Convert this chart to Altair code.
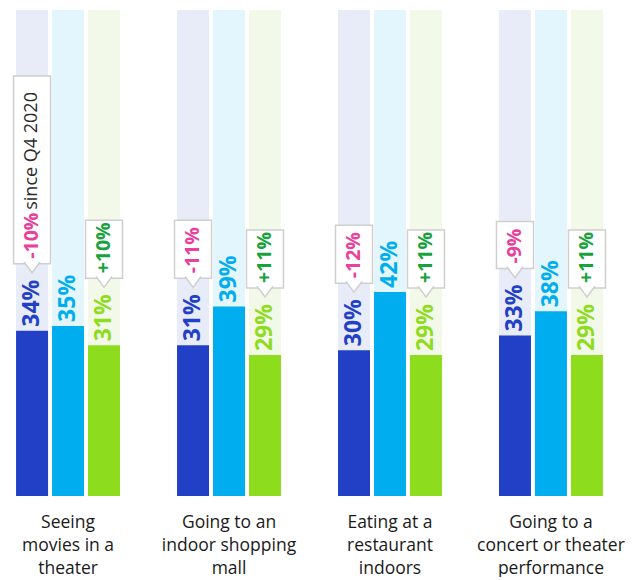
import altair as alt
import pandas as pd

# ---- data ----
categories = [
    "Seeing|movies in a|theater",
    "Going to an|indoor shopping|mall",
    "Eating at a|restaurant|indoors",
    "Going to a|concert or theater|performance",
]
series = ["Segment A", "Segment B", "Segment C"]
seg_a = [34, 31, 30, 33]
seg_b = [35, 39, 42, 38]
seg_c = [31, 29, 29, 29]
change_a = ["-10%", "-11%", "-12%", "-9%"]
change_c = ["+10%", "+11%", "+11%", "+11%"]
notes_a = ["since Q4 2020", "", "", ""]

# ---- styling ----
main_colors = ["#2140c6", "#00aeef", "#8edc1e"]
bg_colors = ["#e8ebf8", "#e4f6fd", "#f3f9e9"]
label_colors = ["#2a43c4", "#18ace8", "#8ed92a"]
PINK = "#e8409b"
GREEN_TXT = "#17a23b"
FONT = "Open Sans"

W, H = 603, 486
K = 100 / H  # data units per pixel on the y scale

rows = []
for i, c in enumerate(categories):
    for s, vals in zip(series, [seg_a, seg_b, seg_c]):
        rows.append({"category": c, "series": s, "value": vals[i], "full": 100})
bars_df = pd.DataFrame(rows)

crows = []
for i, c in enumerate(categories):
    crows.append({"category": c, "series": series[0], "value": seg_a[i],
                  "change": change_a[i], "note": notes_a[i]})
    crows.append({"category": c, "series": series[2], "value": seg_c[i],
                  "change": change_c[i], "note": ""})
call_df = pd.DataFrame(crows)

x_enc = alt.X(
    "category:N", sort=categories,
    scale=alt.Scale(paddingInner=0.354, paddingOuter=0.05),
    axis=alt.Axis(
        title=None, domain=False, ticks=False, labelAngle=0,
        labelExpr="split(datum.label, '|')", labelFont=FONT,
        labelFontSize=17.5, labelColor="#1a1a1a", labelLineHeight=23,
        labelPadding=17, labelBaseline="top", labelLimit=300,
    ),
)
xo_enc = alt.XOffset("series:N", sort=series,
                     scale=alt.Scale(paddingInner=0.11, paddingOuter=0))

base = alt.Chart(bars_df).encode(x=x_enc, xOffset=xo_enc)

bg = base.mark_bar(width=32).encode(
    y=alt.Y("full:Q", scale=alt.Scale(domain=[0, 100], nice=False), axis=None),
    fill=alt.Fill("series:N", scale=alt.Scale(domain=series, range=bg_colors), legend=None),
)
fg = base.mark_bar(width=32).encode(
    y=alt.Y("value:Q"),
    color=alt.Color("series:N", scale=alt.Scale(domain=series, range=main_colors), legend=None),
)
vlabels = base.transform_calculate(lbl="datum.value + '%'").mark_text(
    angle=270, align="left", baseline="middle", font=FONT, fontSize=23,
    fontWeight="bold", yOffset=-4,
).encode(
    y=alt.Y("value:Q"),
    text="lbl:N",
    color=alt.Color("series:N", scale=alt.Scale(domain=series, range=label_colors), legend=None),
)

cbase = alt.Chart(call_df).transform_calculate(
    boxlen="11*length(datum.change) + 14 + (datum.note ? 9.6*length(datum.note) + 5 : 0)",
).transform_calculate(
    box_y=f"datum.value + 67*{K}",
    box_y2=f"datum.value + (67 + datum.boxlen)*{K}",
    tri_y=f"datum.value + 62.8*{K}",
    ch_y=f"datum.value + 72*{K}",
    note_y=f"datum.value + (72 + 11*length(datum.change) + 5)*{K}",
).encode(x=x_enc, xOffset=xo_enc)

box = cbase.mark_bar(width=37, fill="white", stroke="#cfcfcf", strokeWidth=1.5).encode(
    y="box_y:Q", y2="box_y2:Q",
)
tri = cbase.mark_point(
    shape="M-1,-0.75L0,0.6L1,-0.75", filled=True, fill="white", stroke="#cfcfcf",
    strokeWidth=1.5, size=256, opacity=1,
).encode(y="tri_y:Q")
ctext = cbase.mark_text(
    angle=270, align="left", baseline="middle", font=FONT, fontSize=19.5, fontWeight="bold",
).encode(
    y="ch_y:Q",
    text="change:N",
    color=alt.condition(alt.datum.series == series[0], alt.value(PINK), alt.value(GREEN_TXT)),
)
ntext = cbase.transform_filter("datum.note != ''").mark_text(
    angle=270, align="left", baseline="middle", font=FONT, fontSize=18, color="#2b2b2b",
).encode(y="note_y:Q", text="note:N")

chart = alt.layer(bg, fg, vlabels, box, tri, ctext, ntext).properties(
    width=W, height=H, padding={"left": 0, "top": 2, "right": 0, "bottom": 0},
).configure_view(stroke=None)

chart.save("out.html", embed_options={"renderer": "svg", "actions": False})
